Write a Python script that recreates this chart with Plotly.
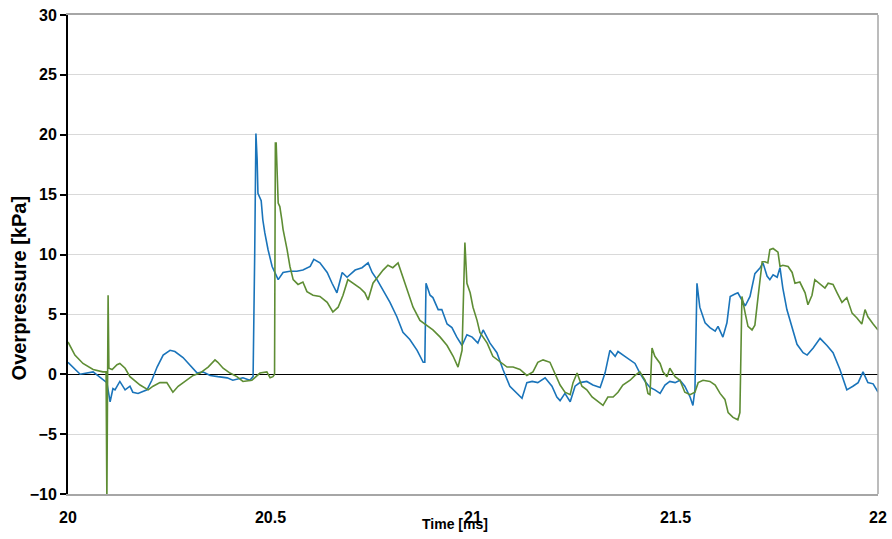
import plotly.graph_objects as go

# Series A (blue)
time_a = [20.000, 20.030, 20.062, 20.096, 20.104, 20.111, 20.116, 20.128, 20.141, 20.153, 20.160, 20.173,
          20.195, 20.207, 20.220, 20.235, 20.252, 20.264, 20.284, 20.301, 20.319, 20.333, 20.351, 20.370,
          20.393, 20.407, 20.432, 20.449, 20.457, 20.461, 20.464, 20.467, 20.469, 20.477, 20.481, 20.486,
          20.494, 20.504, 20.519, 20.531, 20.548, 20.565, 20.580, 20.598, 20.607, 20.622, 20.640, 20.652,
          20.664, 20.677, 20.689, 20.709, 20.726, 20.741, 20.751, 20.763, 20.778, 20.795, 20.812, 20.827,
          20.844, 20.862, 20.877, 20.881, 20.884, 20.894, 20.901, 20.914, 20.923, 20.936, 20.948, 20.960,
          20.973, 20.985, 20.998, 21.012, 21.025, 21.042, 21.059, 21.074, 21.091, 21.109, 21.121, 21.133,
          21.146, 21.160, 21.178, 21.195, 21.207, 21.215, 21.227, 21.240, 21.252, 21.264, 21.281, 21.296,
          21.314, 21.326, 21.338, 21.351, 21.358, 21.375, 21.388, 21.400, 21.412, 21.425, 21.437, 21.449,
          21.462, 21.474, 21.486, 21.499, 21.511, 21.523, 21.536, 21.543, 21.548, 21.553, 21.560, 21.573,
          21.585, 21.598, 21.605, 21.617, 21.627, 21.635, 21.647, 21.654, 21.664, 21.672, 21.684, 21.696,
          21.709, 21.716, 21.726, 21.733, 21.741, 21.751, 21.758, 21.765, 21.775, 21.788, 21.800, 21.815,
          21.825, 21.840, 21.857, 21.874, 21.889, 21.906, 21.923, 21.938, 21.951, 21.963, 21.975, 21.988,
          22.000]
pressure_a = [1.0, 0.0, 0.2, -0.7, -2.3, -1.2, -1.3, -0.6, -1.3, -1.0, -1.5, -1.6,
              -1.3, -0.5, 0.6, 1.6, 2.0, 1.9, 1.4, 0.8, 0.1, 0.2, -0.1, -0.2,
              -0.3, -0.5, -0.3, -0.5, -0.2, 10.0, 20.1, 17.9, 15.1, 14.5, 12.9, 11.8,
              10.4, 9.0, 7.9, 8.5, 8.6, 8.6, 8.7, 9.0, 9.6, 9.3, 8.5, 7.6,
              6.8, 8.5, 8.1, 8.7, 8.9, 9.3, 8.5, 7.9, 7.0, 6.0, 4.8, 3.5,
              2.9, 2.0, 1.0, 1.0, 7.6, 6.6, 6.4, 5.4, 5.4, 4.2, 3.9, 3.1,
              2.4, 3.3, 3.1, 2.6, 3.7, 2.6, 1.8, 0.4, -1.0, -1.6, -2.0, -0.7,
              -0.6, -0.7, -0.3, -1.0, -1.9, -2.2, -1.6, -2.3, -1.0, -0.7, -0.6, -0.9,
              -1.1, 0.1, 2.0, 1.5, 1.9, 1.5, 1.2, 0.9, 0.1, -0.6, -1.1, -1.3,
              -1.6, -0.9, -0.6, -0.7, -0.5, -1.0, -1.9, -2.6, -1.3, 7.6, 5.6, 4.3,
              3.9, 3.6, 4.0, 3.1, 4.3, 6.5, 6.7, 6.8, 6.2, 5.7, 6.5, 8.4,
              8.9, 9.3, 8.2, 7.9, 8.3, 8.1, 8.9, 7.2, 5.4, 3.8, 2.5, 1.8,
              1.6, 2.2, 3.0, 2.4, 1.8, 0.4, -1.3, -1.0, -0.7, 0.2, -0.7, -0.8,
              -1.5]

# Series B (green)
time_b = [20.000, 20.017, 20.037, 20.062, 20.086, 20.094, 20.096, 20.098, 20.099, 20.101, 20.109, 20.121,
          20.128, 20.141, 20.153, 20.178, 20.198, 20.210, 20.227, 20.244, 20.259, 20.272, 20.294, 20.309,
          20.326, 20.346, 20.363, 20.370, 20.383, 20.400, 20.417, 20.432, 20.454, 20.469, 20.474, 20.491,
          20.499, 20.506, 20.510, 20.512, 20.514, 20.519, 20.523, 20.528, 20.531, 20.541, 20.548, 20.556,
          20.568, 20.580, 20.590, 20.605, 20.622, 20.640, 20.654, 20.667, 20.679, 20.691, 20.704, 20.721,
          20.733, 20.741, 20.753, 20.765, 20.778, 20.790, 20.802, 20.815, 20.827, 20.840, 20.852, 20.869,
          20.886, 20.901, 20.919, 20.936, 20.951, 20.963, 20.973, 20.980, 20.985, 20.993, 21.000, 21.010,
          21.017, 21.035, 21.049, 21.067, 21.084, 21.099, 21.116, 21.133, 21.148, 21.160, 21.173, 21.190,
          21.202, 21.215, 21.227, 21.240, 21.247, 21.257, 21.269, 21.281, 21.294, 21.309, 21.321, 21.333,
          21.346, 21.358, 21.370, 21.388, 21.400, 21.412, 21.425, 21.432, 21.437, 21.442, 21.449, 21.462,
          21.469, 21.479, 21.486, 21.499, 21.511, 21.523, 21.536, 21.548, 21.556, 21.568, 21.585, 21.598,
          21.610, 21.622, 21.630, 21.642, 21.654, 21.659, 21.664, 21.672, 21.679, 21.689, 21.696, 21.704,
          21.714, 21.721, 21.728, 21.733, 21.741, 21.753, 21.758, 21.765, 21.778, 21.788, 21.795, 21.807,
          21.820, 21.827, 21.837, 21.844, 21.857, 21.869, 21.877, 21.889, 21.899, 21.911, 21.923, 21.936,
          21.948, 21.960, 21.968, 21.975, 21.988, 22.000]
pressure_b = [2.7, 1.6, 0.9, 0.4, 0.2, 0.2, -10.5, 3.4, 6.6, 0.5, 0.4, 0.8,
              0.9, 0.5, -0.2, -0.9, -1.3, -1.0, -0.7, -0.7, -1.5, -1.0, -0.5, -0.1,
              0.1, 0.6, 1.2, 1.0, 0.5, 0.1, -0.2, -0.6, -0.5, -0.1, 0.1, 0.2,
              -0.3, -0.2, 0.0, 19.3, 19.3, 14.3, 14.0, 12.9, 12.1, 10.4, 9.0, 7.9,
              7.5, 7.7, 6.9, 6.6, 6.5, 6.0, 5.2, 5.6, 6.6, 7.9, 7.6, 7.2,
              6.8, 6.2, 7.6, 8.1, 8.7, 9.1, 8.9, 9.3, 8.1, 6.8, 5.6, 4.5,
              4.1, 3.7, 3.1, 2.4, 1.5, 0.6, 2.0, 11.0, 7.6, 6.8, 5.6, 4.5,
              3.5, 2.6, 1.5, 1.0, 0.6, 0.6, 0.4, -0.1, 0.2, 1.0, 1.2, 1.0,
              0.1, -0.9, -1.5, -1.7, -0.7, 0.1, -1.0, -1.3, -1.9, -2.3, -2.6, -1.9,
              -1.9, -1.5, -0.9, -0.5, -0.1, 0.2, -0.5, -1.6, -1.7, 2.2, 1.5, 0.9,
              0.2, -0.2, 0.5, -0.2, -0.5, -1.5, -1.7, -1.5, -0.7, -0.5, -0.6, -0.9,
              -1.6, -2.1, -3.2, -3.6, -3.8, -3.2, 6.5, 5.1, 4.0, 3.7, 4.1, 6.5,
              9.4, 9.4, 9.3, 10.4, 10.5, 10.2, 9.0, 9.1, 9.0, 8.5, 7.6, 7.7,
              6.8, 5.8, 6.6, 7.9, 7.5, 7.2, 7.6, 7.5, 6.8, 6.0, 6.4, 5.1,
              4.7, 4.2, 5.4, 4.8, 4.2, 3.7]

x_ticks = [20, 20.5, 21, 21.5, 22]
x_tick_labels = ["20", "20.5", "21", "21.5", "22"]
y_ticks = [-10, -5, 0, 5, 10, 15, 20, 25, 30]

font_family = "Liberation Sans, Arial, sans-serif"

fig = go.Figure()
fig.add_trace(go.Scatter(x=time_a, y=pressure_a, mode="lines",
                         line=dict(color="#1A74BA", width=1.6), showlegend=False))
fig.add_trace(go.Scatter(x=time_b, y=pressure_b, mode="lines",
                         line=dict(color="#5E8D34", width=1.6), showlegend=False))

fig.update_layout(
    width=892, height=539,
    margin=dict(l=68, r=14, t=15, b=45),
    paper_bgcolor="white", plot_bgcolor="white",
    font=dict(family=font_family, color="black"),
    xaxis=dict(range=[20, 22], tickvals=x_ticks, ticktext=x_tick_labels,
               automargin=False,
               showgrid=False, zeroline=False,
               showline=True, linecolor="#A6A6A6", linewidth=1.5, mirror=True,
               ticks="outside", ticklen=8, tickcolor="rgba(0,0,0,0)",
               tickfont=dict(size=16, family=font_family, weight="bold")),
    yaxis=dict(range=[-10, 30], tickvals=y_ticks,
               automargin=False,
               showgrid=True, gridcolor="#D9D9D9", gridwidth=1,
               zeroline=True, zerolinecolor="black", zerolinewidth=1,
               showline=True, linecolor="black", linewidth=2,
               ticks="outside", ticklen=6, tickcolor="black", tickwidth=1.5,
               tickfont=dict(size=16, family=font_family, weight="bold")),
    shapes=[
        dict(type="line", xref="paper", yref="paper", x0=1, x1=1, y0=0, y1=1,
             line=dict(color="#A6A6A6", width=1.5)),
    ],
    annotations=[
        dict(text="<b>Overpressure [kPa]</b>", xref="paper", yref="paper",
             x=-0.06, y=0.43, xanchor="center", yanchor="middle", textangle=-90,
             showarrow=False, font=dict(size=20, family=font_family, color="black")),
        dict(text="<b>Time [ms]</b>", xref="paper", yref="paper",
             x=0.478, y=-0.063, xanchor="center", yanchor="middle",
             showarrow=False, font=dict(size=14, family=font_family, color="black")),
    ],
)

fig.write_html("out.html", config={"displayModeBar": False},
               post_script="document.body.style.margin='0';")
